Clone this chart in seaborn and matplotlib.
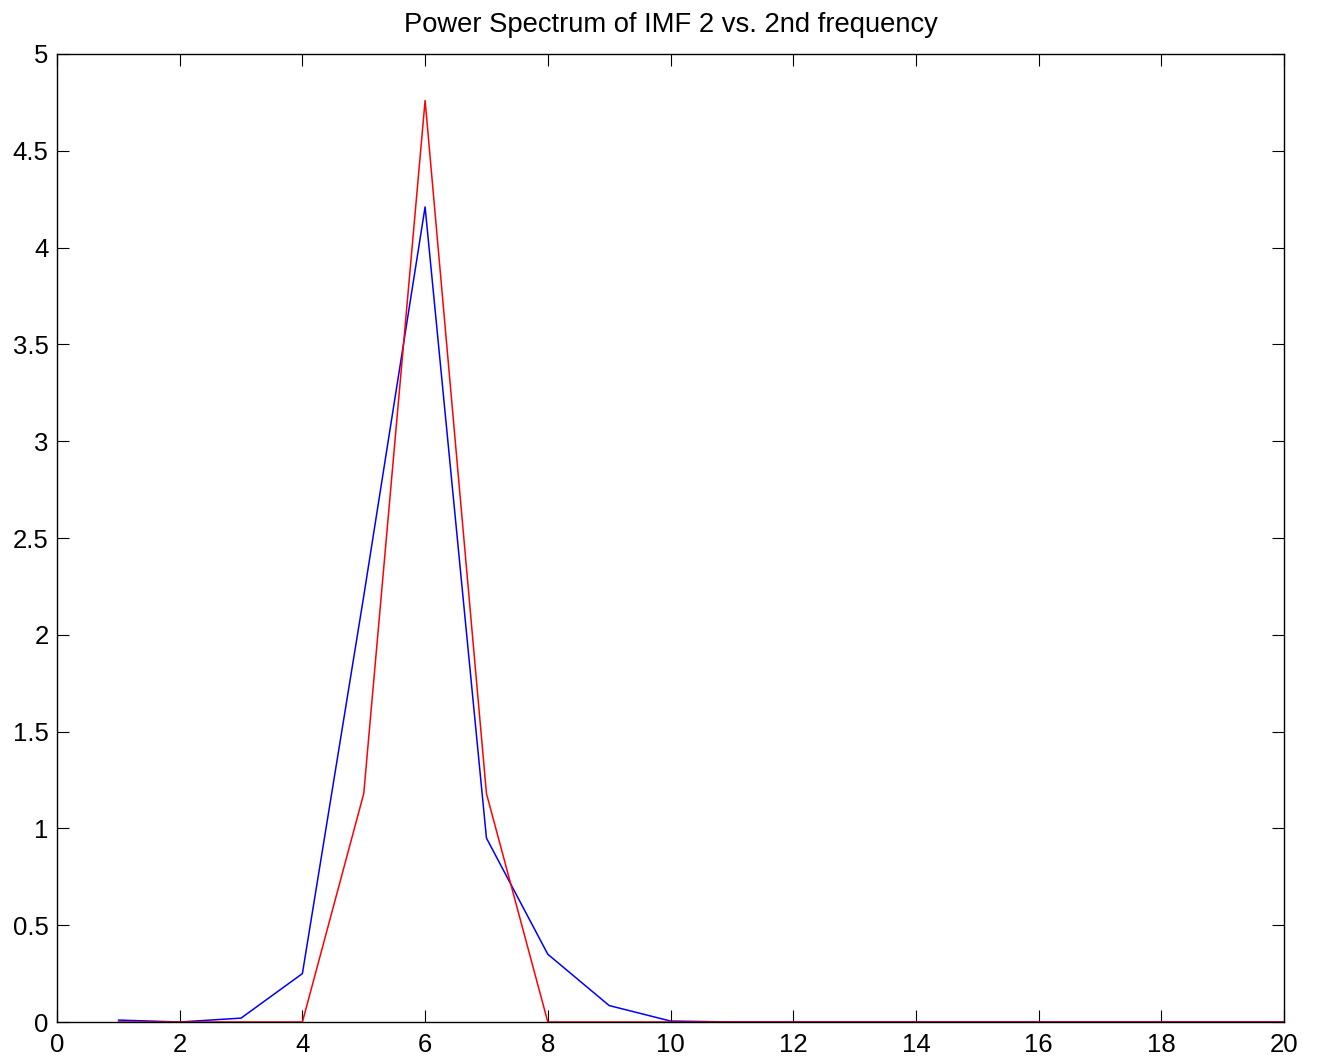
import matplotlib
matplotlib.use("Agg")
import matplotlib.pyplot as plt
import seaborn as sns
import pandas as pd

freq = list(range(1, 21))
imf2_power = [0.01, 0.0, 0.02, 0.25, 2.2, 4.21, 0.95, 0.35, 0.085, 0.005,
              0.0, 0.0, 0.0, 0.0, 0.0, 0.0, 0.0, 0.0, 0.0, 0.0]
ref_power = [0.0, 0.0, 0.0, 0.0, 1.18, 4.76, 1.18, 0.0, 0.0, 0.0,
             0.0, 0.0, 0.0, 0.0, 0.0, 0.0, 0.0, 0.0, 0.0, 0.0]
xticks = list(range(0, 21, 2))
yticks = [0, 0.5, 1, 1.5, 2, 2.5, 3, 3.5, 4, 4.5, 5]
ytick_labels = ["0", "0.5", "1", "1.5", "2", "2.5", "3", "3.5", "4", "4.5", "5"]

df = pd.DataFrame({"freq": freq, "imf2": imf2_power, "ref": ref_power})

sns.set_style("white")
plt.rcParams["font.family"] = ["Liberation Sans", "DejaVu Sans"]

fig = plt.figure(figsize=(13.18, 10.64), dpi=100)
ax = fig.add_axes([57 / 1318, 42 / 1064, (1284 - 57) / 1318, (1022 - 54) / 1064])

sns.lineplot(data=df, x="freq", y="imf2", ax=ax, color="#0000ff", linewidth=1.1)
sns.lineplot(data=df, x="freq", y="ref", ax=ax, color="#ff0000", linewidth=1.1)

ax.set_xlim(0, 20)
ax.set_ylim(0, 5)
ax.set_xticks(xticks)
ax.set_xticklabels([str(t) for t in xticks])
ax.set_yticks(yticks)
ax.set_yticklabels(ytick_labels)
ax.set_xlabel("")
ax.set_ylabel("")
ax.tick_params(direction="in", length=8.5, width=0.8, color="black",
               labelsize=18.5, top=True, right=True, bottom=True, left=True,
               labelcolor="black")
ax.tick_params(axis="y", pad=6)
ax.tick_params(axis="x", pad=8)
for s in ax.spines.values():
    s.set_color("black")
    s.set_linewidth(1.0)
    s.set_visible(True)
ax.set_title("Power Spectrum of IMF 2 vs. 2nd frequency", fontsize=19.7, pad=16, color="black")

fig.savefig("out.png", dpi=100)
